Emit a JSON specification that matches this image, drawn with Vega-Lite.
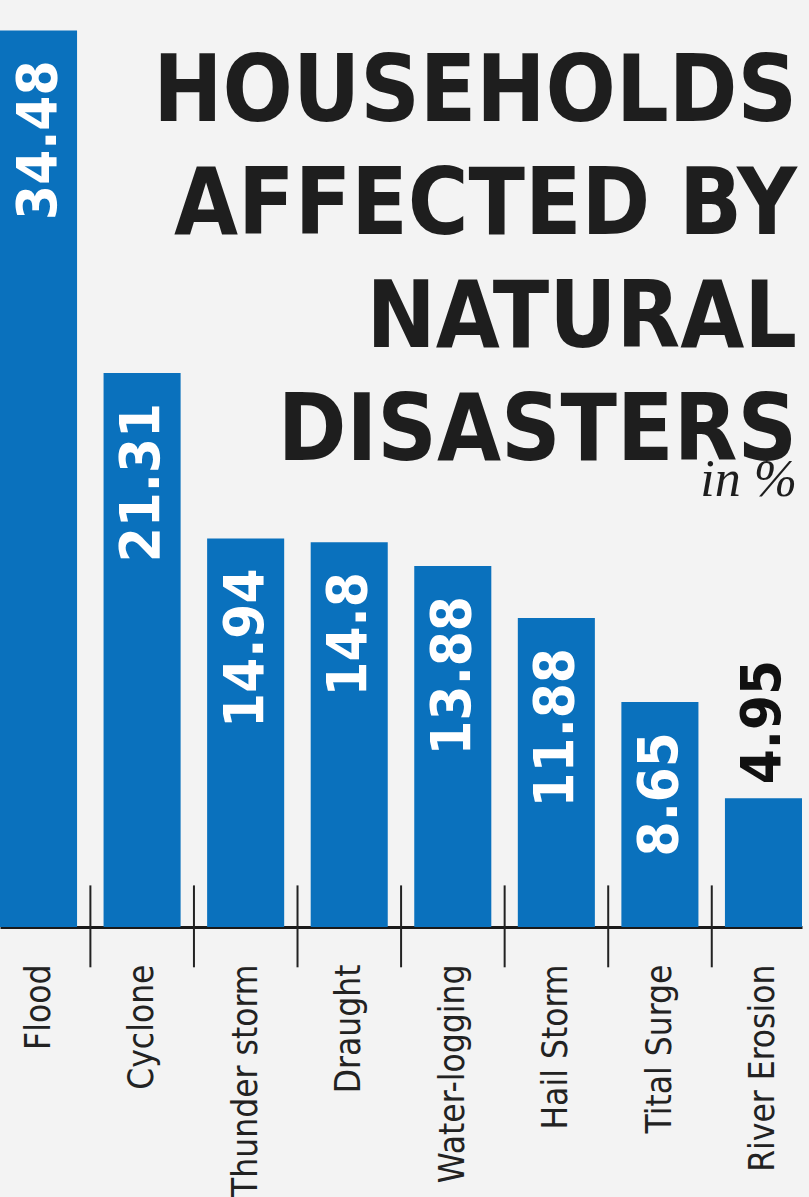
{
  "$schema": "https://vega.github.io/schema/vega-lite/v6.json",
  "width": 802,
  "height": 910,
  "autosize": {"type": "none"},
  "padding": {"left": 0, "top": 17, "right": 7, "bottom": 270},
  "background": "#f3f3f3",
  "config": {"view": {"stroke": null}},
  "title": {
    "text": ["HOUSEHOLDS", "AFFECTED BY", "NATURAL", "DISASTERS"],
    "subtitle": "in %",
    "orient": "top",
    "anchor": "end",
    "frame": "group",
    "baseline": "top",
    "offset": 0,
    "dx": -5,
    "dy": 490,
    "font": "DejaVu Sans Condensed",
    "fontSize": 92,
    "fontWeight": "bold",
    "lineHeight": 113,
    "color": "#1e1e1e",
    "subtitleFont": "Liberation Serif",
    "subtitleFontStyle": "italic",
    "subtitleFontSize": 52,
    "subtitleColor": "#1e1e1e",
    "subtitlePadding": -24
  },
  "datasets": {
    "bars": [
      {"cat": "Flood", "value": 34.48},
      {"cat": "Cyclone", "value": 21.31},
      {"cat": "Thunder storm", "value": 14.94},
      {"cat": "Draught", "value": 14.8},
      {"cat": "Water-logging", "value": 13.88},
      {"cat": "Hail Storm", "value": 11.88},
      {"cat": "Tital Surge", "value": 8.65},
      {"cat": "River Erosion", "value": 4.95}
    ],
    "seps": [
      {"cat": "Cyclone"},
      {"cat": "Thunder storm"},
      {"cat": "Draught"},
      {"cat": "Water-logging"},
      {"cat": "Hail Storm"},
      {"cat": "Tital Surge"},
      {"cat": "River Erosion"}
    ]
  },
  "encoding": {
    "x": {
      "field": "cat",
      "type": "nominal",
      "sort": null,
      "scale": {
        "domain": ["Flood", "Cyclone", "Thunder storm", "Draught", "Water-logging", "Hail Storm", "Tital Surge", "River Erosion"],
        "paddingInner": 0.256,
        "paddingOuter": 0
      },
      "axis": {
        "title": null,
        "labelAngle": 270,
        "labelAlign": "right",
        "labelBaseline": "middle",
        "labelFont": "DejaVu Sans Condensed",
        "labelFontSize": 35,
        "labelColor": "#222222",
        "labelPadding": 37,
        "labelLimit": 500,
        "ticks": false,
        "domainColor": "#1a1a1a",
        "domainWidth": 3
      }
    }
  },
  "layer": [
    {
      "data": {"name": "bars"},
      "mark": {"type": "bar", "color": "#0a71bd"},
      "encoding": {
        "y": {"field": "value", "type": "quantitative", "scale": {"domain": [0, 35], "nice": false}, "axis": null}
      }
    },
    {
      "data": {"name": "seps"},
      "mark": {"type": "rule", "color": "#222222", "strokeWidth": 2},
      "encoding": {
        "x": {"field": "cat", "type": "nominal", "bandPosition": -0.171},
        "y": {"datum": 1.6, "type": "quantitative"},
        "y2": {"datum": -1.55}
      }
    },
    {
      "data": {"name": "bars"},
      "transform": [{"filter": "datum.value >= 6"}],
      "mark": {"type": "text", "angle": 270, "align": "right", "baseline": "middle", "dx": -30, "font": "DejaVu Sans Condensed", "fontWeight": "bold", "fontSize": 56, "color": "#ffffff"},
      "encoding": {
        "y": {"field": "value", "type": "quantitative"},
        "text": {"field": "value", "type": "nominal"}
      }
    },
    {
      "data": {"name": "bars"},
      "transform": [{"filter": "datum.value < 6"}],
      "mark": {"type": "text", "angle": 270, "align": "left", "baseline": "middle", "dx": 14, "font": "DejaVu Sans Condensed", "fontWeight": "bold", "fontSize": 56, "color": "#111111"},
      "encoding": {
        "y": {"field": "value", "type": "quantitative"},
        "text": {"field": "value", "type": "nominal"}
      }
    }
  ]
}
